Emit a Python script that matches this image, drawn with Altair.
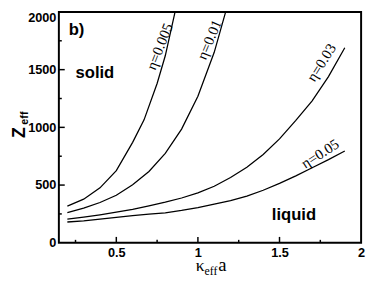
import altair as alt
import pandas as pd

# ---- data ----
x_005 = [0.2, 0.3, 0.4, 0.5, 0.6, 0.67, 0.75, 0.8, 0.86]
z_005 = [318, 378, 476, 625, 870, 1065, 1380, 1620, 2000]

x_01 = [0.2, 0.3, 0.4, 0.5, 0.6, 0.7, 0.8, 0.9, 1.0, 1.1, 1.17]
z_01 = [262, 300, 349, 412, 502, 618, 775, 985, 1270, 1650, 2000]

x_03 = [0.2, 0.3, 0.4, 0.5, 0.6, 0.7, 0.8, 0.9, 1.0, 1.1, 1.2, 1.3, 1.4, 1.5, 1.6, 1.7, 1.8, 1.9]
z_03 = [205, 222, 242, 265, 290, 320, 352, 388, 432, 490, 565, 655, 765, 900, 1060, 1230, 1440, 1690]

x_05 = [0.2, 0.3, 0.4, 0.5, 0.6, 0.7, 0.8, 0.9, 1.0, 1.1, 1.2, 1.3, 1.4, 1.5, 1.6, 1.7, 1.8, 1.9]
z_05 = [180, 190, 205, 220, 235, 248, 260, 280, 305, 335, 365, 405, 455, 515, 580, 650, 720, 795]

series_names = ["η=0.005", "η=0.01", "η=0.03", "η=0.05"]
label_x = [0.765, 1.07, 1.757, 1.749]
label_z = [1700, 1760, 1561, 772]
label_angle = [291.5, 293, 302, 327]

x_tick_labels = [0.5, 1, 1.5, 2]
y_tick_labels = [0, 500, 1000, 1500, 2000]
x_major_ticks = [0.5, 1.0, 1.5]
x_minor_ticks = [0.25, 0.75, 1.25, 1.75]
y_major_ticks = [500, 1000, 1500]
y_minor_ticks = [250, 750, 1250, 1750]

W, H = 309, 236
SANS = "Liberation Sans"
SERIF = "Liberation Serif"

rows = []
for name, xs, zs in zip(series_names, [x_005, x_01, x_03, x_05], [z_005, z_01, z_03, z_05]):
    for xv, zv in zip(xs, zs):
        rows.append({"eta": name, "x": xv, "z": zv})
df = pd.DataFrame(rows)

xscale = alt.Scale(domain=[0.148, 2.0], nice=False, zero=False)
yscale = alt.Scale(domain=[0, 2000], nice=False, zero=False)

xenc = alt.X(
    "x:Q", scale=xscale, title=None,
    axis=alt.Axis(values=x_tick_labels, format="~g", labelFlush=False,
                  labelFont=SANS, labelFontWeight="bold", labelFontSize=13,
                  labelColor="black", labelPadding=4, domain=False, ticks=False,
                  tickSize=0, grid=False, title=None),
)
yenc = alt.Y(
    "z:Q", scale=yscale, title=None,
    axis=alt.Axis(values=y_tick_labels, format="d", labelFlush=False,
                  labelFont=SANS, labelFontWeight="bold", labelFontSize=13,
                  labelColor="black", labelPadding=3, domain=False, ticks=False,
                  tickSize=0, grid=False, title=None,
                  labelBaseline={"condition": {"test": "datum.value == 2000", "value": "top"},
                                 "value": "middle"}),
)

lines = alt.Chart(df).mark_line(color="black", strokeWidth=1.3, clip=True).encode(
    x=xenc, y=yenc, detail="eta:N", order="x:Q"
)

layers = [lines]

# inner ticks
def xticks(vals, length):
    return alt.Chart(pd.DataFrame({"x": vals})).mark_rule(color="black", strokeWidth=1.5).encode(
        x=xenc, y=alt.value(H), y2=alt.value(H - length))

def yticks(vals, length):
    return alt.Chart(pd.DataFrame({"z": vals})).mark_rule(color="black", strokeWidth=1.5).encode(
        y=yenc, x=alt.value(0), x2=alt.value(length))

layers += [xticks(x_major_ticks, 6), xticks(x_minor_ticks, 3),
           yticks(y_major_ticks, 6), yticks(y_minor_ticks, 3)]

# curve labels
for name, lx, lz, ang in zip(series_names, label_x, label_z, label_angle):
    layers.append(
        alt.Chart(pd.DataFrame({"x": [lx], "z": [lz], "t": [name]})).mark_text(
            font=SERIF, fontSize=15, color="black", angle=ang, align="center", baseline="middle"
        ).encode(x=xenc, y=yenc, text="t:N")
    )

# region annotations
ann = pd.DataFrame({"x": [0.208, 0.25, 1.453], "z": [1841, 1427, 201], "t": ["b)", "solid", "liquid"]})
layers.append(
    alt.Chart(ann.iloc[[0]]).mark_text(font=SANS, fontSize=17, fontWeight="bold", color="black",
                                       align="left", baseline="middle").encode(x=xenc, y=yenc, text="t:N"))
layers.append(
    alt.Chart(ann.iloc[1:]).mark_text(font=SANS, fontSize=17, fontWeight="bold", color="black",
                                      align="left", baseline="alphabetic").encode(x=xenc, y=yenc, text="t:N"))

# axis titles (Z_eff and kappa_eff a)
one = pd.DataFrame({"a": [0]})
def title_text(t, x, y, size, font, weight, angle=0, align="left"):
    return alt.Chart(one).mark_text(text=t, font=font, fontSize=size, fontWeight=weight, color="black",
                                    angle=angle, align=align, baseline="alphabetic").encode(
        x=alt.value(x), y=alt.value(y))

layers += [
    title_text("Z", -35, 123.5, 18, SANS, "bold", angle=270, align="center"),
    title_text("eff", -32, 108.5, 11, SANS, "bold", angle=270, align="center"),
    title_text("κ", 140, 265, 18, SERIF, "normal"),
    title_text("eff", 149, 269, 12, SERIF, "normal"),
    title_text("a", 163, 265, 19, SERIF, "normal"),
]

chart = alt.layer(*layers).properties(
    width=W, height=H,
    autosize=alt.AutoSizeParams(type="none"),
    padding={"left": 52, "top": 1, "right": 5, "bottom": 34},
).configure_view(stroke="black", strokeWidth=2).configure_axis(grid=False)

chart.save("out.html", embed_options={"renderer": "svg", "actions": False})
